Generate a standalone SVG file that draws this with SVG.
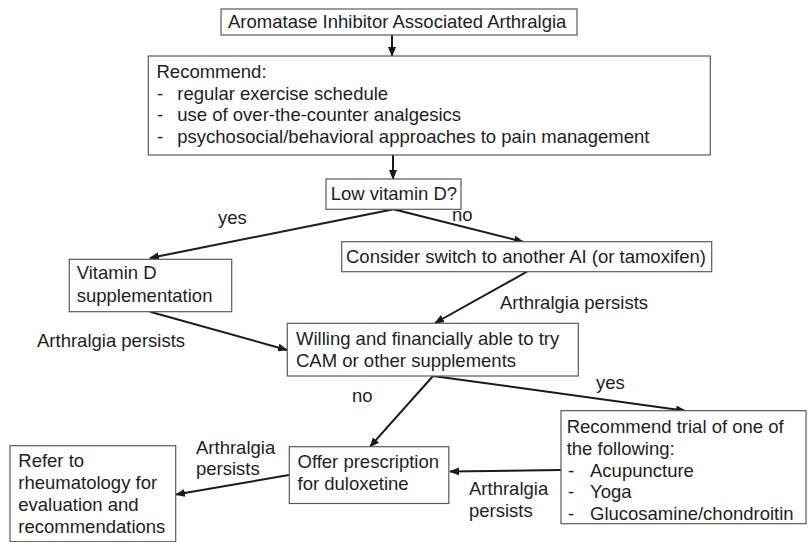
<svg xmlns="http://www.w3.org/2000/svg" width="809" height="542" viewBox="0 0 809 542">
  <style>
    .box { fill: #ffffff; stroke: #5a5a5a; stroke-width: 1.2; }
    .t { font-family: "Liberation Sans", Arial, Helvetica, sans-serif; font-size: 18.5px; fill: #1e1e1e; }
    .edge { stroke: #1a1a1a; stroke-width: 2; fill: none; marker-end: url(#arrow); }
  </style>
  <defs>
    <marker id="arrow" markerUnits="userSpaceOnUse" markerWidth="10" markerHeight="8" refX="9" refY="4" orient="auto">
      <path d="M0,0 L10,4 L0,8 z" fill="#1a1a1a"/>
    </marker>
  </defs>
  <rect width="809" height="542" fill="#ffffff"/>

  <g id="connectors">
    <line class="edge" x1="392" y1="35" x2="392" y2="56"/>
    <line class="edge" x1="393" y1="155" x2="393" y2="179"/>
    <line class="edge" x1="393.5" y1="209.3" x2="150" y2="258"/>
    <line class="edge" x1="393.5" y1="209.3" x2="523" y2="241.7"/>
    <line class="edge" x1="527" y1="271.7" x2="435" y2="323"/>
    <line class="edge" x1="150" y1="311.7" x2="287" y2="350"/>
    <line class="edge" x1="433" y1="376" x2="370" y2="446.7"/>
    <line class="edge" x1="433" y1="376" x2="685" y2="410.7"/>
    <line class="edge" x1="561" y1="470" x2="450" y2="471.5"/>
    <line class="edge" x1="289" y1="475" x2="176" y2="494.5"/>
    <text class="t" x="218" y="224">yes</text>
    <text class="t" x="452" y="221">no</text>
    <text class="t" x="500" y="309">Arthralgia persists</text>
    <text class="t" x="37" y="347">Arthralgia persists</text>
    <text class="t" x="352" y="402">no</text>
    <text class="t" x="596" y="389">yes</text>
    <text class="t" x="196" y="454">Arthralgia</text>
    <text class="t" x="196" y="474.5">persists</text>
    <text class="t" x="469" y="495">Arthralgia</text>
    <text class="t" x="469" y="517">persists</text>
  </g>

  <g id="ai-arthralgia">
    <rect class="box" x="221" y="9" width="356" height="26"/>
    <text class="t" x="228" y="28">Aromatase Inhibitor Associated Arthralgia</text>
  </g>

  <g id="recommend">
    <rect class="box" x="148.3" y="56" width="562" height="99"/>
    <text class="t" x="156.5" y="78">Recommend:</text>
    <text class="t" x="157" y="99.5">-</text>
    <text class="t" x="177.3" y="99.5">regular exercise schedule</text>
    <text class="t" x="157" y="121">-</text>
    <text class="t" x="177.3" y="121">use of over-the-counter analgesics</text>
    <text class="t" x="157" y="142.5">-</text>
    <text class="t" x="177.3" y="142.5">psychosocial/behavioral approaches to pain management</text>
  </g>

  <g id="low-vitamin-d">
    <rect class="box" x="326" y="179" width="135" height="30.3"/>
    <text class="t" x="330.7" y="200">Low vitamin D?</text>
  </g>

  <g id="switch-ai">
    <rect class="box" x="341.7" y="241.7" width="370" height="30"/>
    <text class="t" x="346" y="262.7">Consider switch to another AI (or tamoxifen)</text>
  </g>

  <g id="vitamin-d">
    <rect class="box" x="69.3" y="259.3" width="162.4" height="52.4"/>
    <text class="t" x="76.7" y="278.5">Vitamin D</text>
    <text class="t" x="76.7" y="301.5">supplementation</text>
  </g>

  <g id="willing-cam">
    <rect class="box" x="287.3" y="323.3" width="291" height="52.7"/>
    <text class="t" x="296" y="345">Willing and financially able to try</text>
    <text class="t" x="296" y="367.3">CAM or other supplements</text>
  </g>

  <g id="duloxetine">
    <rect class="box" x="289.3" y="446.7" width="159.5" height="56.8"/>
    <text class="t" x="297.5" y="468">Offer prescription</text>
    <text class="t" x="297.5" y="490">for duloxetine</text>
  </g>

  <g id="cam-trial">
    <rect class="box" x="561" y="410.7" width="245" height="113"/>
    <text class="t" x="566.7" y="433.3">Recommend trial of one of</text>
    <text class="t" x="566.7" y="455">the following:</text>
    <text class="t" x="568" y="476.7">-</text>
    <text class="t" x="590" y="476.7">Acupuncture</text>
    <text class="t" x="568" y="498.4">-</text>
    <text class="t" x="590" y="498.4">Yoga</text>
    <text class="t" x="568" y="520">-</text>
    <text class="t" x="590" y="520">Glucosamine/chondroitin</text>
  </g>

  <g id="rheumatology">
    <rect class="box" x="10" y="445.7" width="165.7" height="96"/>
    <text class="t" x="18.3" y="467">Refer to</text>
    <text class="t" x="18.3" y="489">rheumatology for</text>
    <text class="t" x="18.3" y="511">evaluation and</text>
    <text class="t" x="18.3" y="533">recommendations</text>
  </g>
</svg>
